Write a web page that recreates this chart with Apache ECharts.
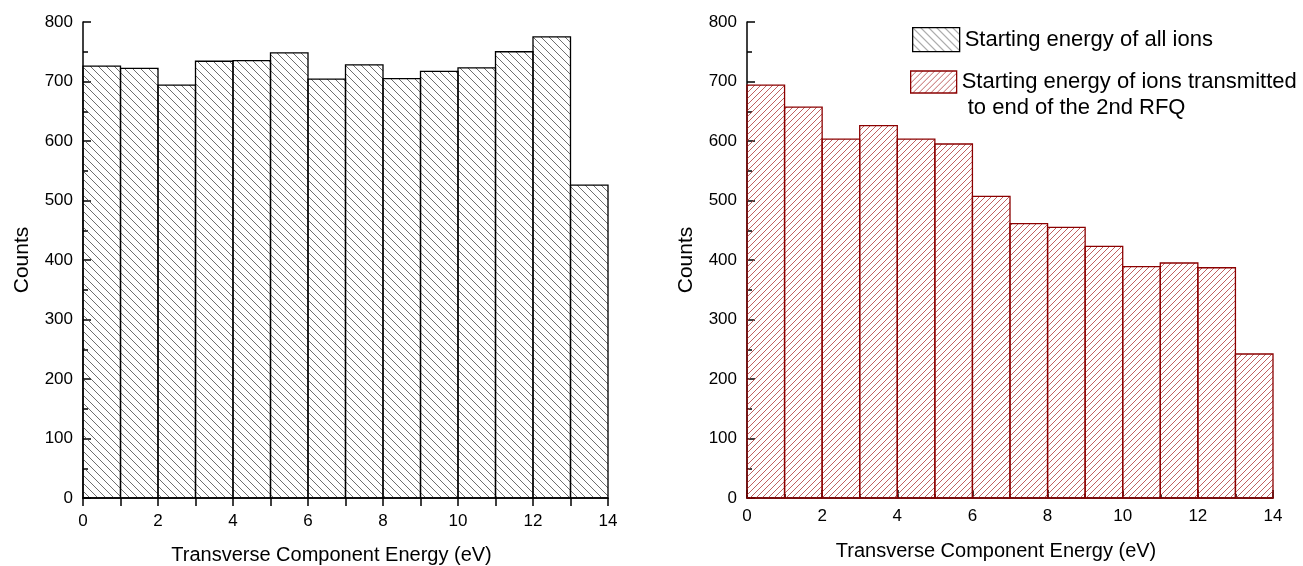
<!DOCTYPE html>
<html>
<head>
<meta charset="utf-8">
<script src="https://cdn.jsdelivr.net/npm/echarts@6/dist/echarts.min.js"></script>
<style>
  html, body { margin: 0; padding: 0; background: #fff; }
  #chart { width: 1303px; height: 566px; }
</style>
</head>
<body>
<div id="chart"></div>
<script>
// Histogram bins: each bin spans [binStart, binStart + binWidth] eV
const binStart = [0, 1, 2, 3, 4, 5, 6, 7, 8, 9, 10, 11, 12, 13];
const binWidth = 1;
// Counts per bin, all ions
const allIons = [726, 722, 694, 734, 735, 748, 704, 728, 705, 717, 723, 750, 775, 526];
// Counts per bin, ions transmitted to the end of the 2nd RFQ
const transmitted = [694, 657, 603, 626, 603, 595, 507, 461, 455, 423, 389, 395, 387, 242];

const nameAll = 'Starting energy of all ions';
const nameTrans = 'Starting energy of ions transmitted\n to end of the 2nd RFQ';
const xTitle = 'Transverse Component Energy (eV)';
const yTitle = 'Counts';

const FONT = 'Liberation Sans, Arial, sans-serif';

// Tile a small canvas with diagonal hatch lines
function hatch(size, dir, color, lw) {
  const c = document.createElement('canvas');
  c.width = size; c.height = size;
  const g = c.getContext('2d');
  g.strokeStyle = color;
  g.lineWidth = lw;
  g.beginPath();
  for (let k = -1; k <= 1; k++) {
    if (dir === 'back') {
      g.moveTo(k * size, 0); g.lineTo(k * size + size, size);
    } else {
      g.moveTo(k * size, size); g.lineTo(k * size + size, 0);
    }
  }
  g.stroke();
  return { image: c, repeat: 'repeat' };
}

const fillAll = hatch(8, 'back', '#4a4a4a', 0.8);
const fillTrans = hatch(6, 'fwd', '#b85050', 0.9);

function binData(counts) {
  return binStart.map((s, i) => [s, s + binWidth, counts[i]]);
}

function histItem(fill, stroke) {
  return function (params, api) {
    const p0 = api.coord([api.value(0), api.value(2)]);
    const p1 = api.coord([api.value(1), 0]);
    return {
      type: 'rect',
      shape: { x: p0[0], y: p0[1], width: p1[0] - p0[0], height: p1[1] - p0[1] },
      style: { fill: fill, stroke: stroke, lineWidth: 1.3 }
    };
  };
}

function xAxis(gridIndex, inside) {
  return {
    type: 'value', gridIndex: gridIndex, min: 0, max: 14, interval: 2,
    name: xTitle, nameLocation: 'middle', nameGap: inside ? 43 : 47,
    nameTextStyle: { fontFamily: FONT, fontSize: 20, color: '#000', padding: [0, 28, 0, 0] },
    axisLine: { lineStyle: { color: '#000', width: 1.5 } },
    axisTick: { inside: inside, length: 8, lineStyle: { color: '#000', width: 1.5 } },
    minorTick: { show: true, splitNumber: 2, length: inside ? 4 : 8, lineStyle: { color: '#000', width: 1.5 } },
    axisLabel: { fontFamily: FONT, fontSize: 17, color: '#000', margin: inside ? 10 : 15 },
    splitLine: { show: false }
  };
}

function yAxis(gridIndex) {
  return {
    type: 'value', gridIndex: gridIndex, min: 0, max: 800, interval: 100,
    name: yTitle, nameLocation: 'middle', nameGap: 50,
    nameTextStyle: { fontFamily: FONT, fontSize: 21, color: '#000' },
    axisLine: { show: true, lineStyle: { color: '#000', width: 1.5 } },
    axisTick: { show: true, inside: true, length: 8, lineStyle: { color: '#000', width: 1.5 } },
    minorTick: { show: true, splitNumber: 2, length: 5, lineStyle: { color: '#000', width: 1.5 } },
    axisLabel: { fontFamily: FONT, fontSize: 17, color: '#000', margin: 10 },
    splitLine: { show: false }
  };
}

const chart = echarts.init(document.getElementById('chart'));
chart.setOption({
  backgroundColor: '#fff',
  animation: false,
  grid: [
    { left: 83, right: 695, top: 22, bottom: 68, outerBoundsMode: 'none' },
    { left: 747, right: 30, top: 22, bottom: 68, outerBoundsMode: 'none' }
  ],
  xAxis: [xAxis(0, false), xAxis(1, true)],
  yAxis: [yAxis(0), yAxis(1)],
  legend: [
    {
      left: 912, top: 27, padding: 0, orient: 'vertical',
      itemWidth: 47, itemHeight: 24, icon: 'rect', selectedMode: false,
      data: [{ name: nameAll, itemStyle: { color: fillAll, borderColor: '#000', borderWidth: 1.3 } }],
      textStyle: { fontFamily: FONT, fontSize: 22, color: '#000', lineHeight: 24 }
    },
    {
      // an empty leading line keeps the icon level with the first text line
      left: 910, top: 43, padding: 0, orient: 'vertical',
      itemWidth: 46, itemHeight: 22, icon: 'rect', selectedMode: false,
      data: [{ name: nameTrans, itemStyle: { color: fillTrans, borderColor: '#8b0000', borderWidth: 1.3 } }],
      formatter: function (n) { return '\n' + n; },
      textStyle: { fontFamily: FONT, fontSize: 22, color: '#000', lineHeight: 26 }
    }
  ],
  series: [
    {
      name: nameAll, type: 'custom', xAxisIndex: 0, yAxisIndex: 0,
      itemStyle: { color: fillAll, borderColor: '#000', borderWidth: 1.3 },
      renderItem: histItem(fillAll, '#000'),
      encode: { x: [0, 1], y: 2 },
      data: binData(allIons)
    },
    {
      name: nameTrans, type: 'custom', xAxisIndex: 1, yAxisIndex: 1,
      itemStyle: { color: fillTrans, borderColor: '#8b0000', borderWidth: 1.3 },
      renderItem: histItem(fillTrans, '#8b0000'),
      encode: { x: [0, 1], y: 2 },
      data: binData(transmitted)
    }
  ]
});
</script>
</body>
</html>
